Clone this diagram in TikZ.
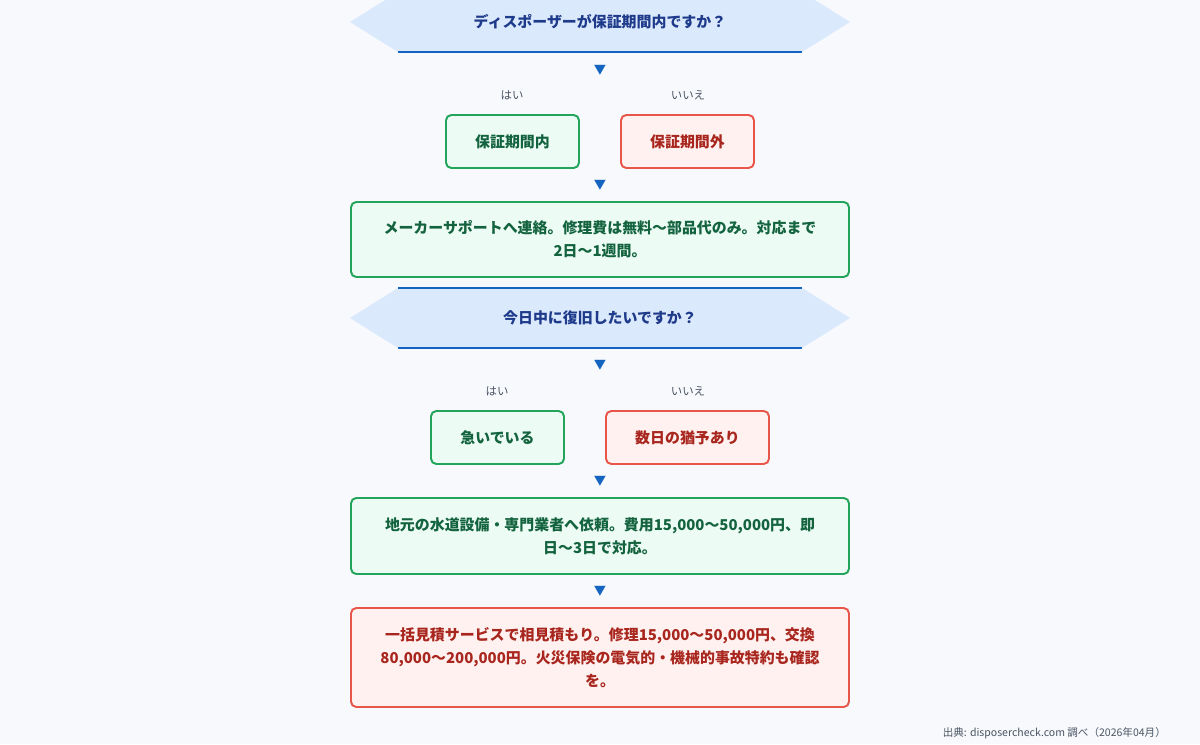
\documentclass[tikz,border=0pt]{standalone}
\usepackage{fontspec}
\setmainfont{Noto Sans CJK JP}
\usetikzlibrary{positioning}
\definecolor{bgc}{HTML}{F7F9FD}
\definecolor{qfill}{HTML}{DBE9FC}
\definecolor{qline}{HTML}{1565C0}
\definecolor{qtext}{HTML}{1E3A8A}
\definecolor{gline}{HTML}{22A55A}
\definecolor{gfill}{HTML}{ECFBF3}
\definecolor{gtext}{HTML}{14633F}
\definecolor{rline}{HTML}{E8564A}
\definecolor{rfill}{HTML}{FFF1EF}
\definecolor{rtext}{HTML}{A8261E}
\definecolor{ltext}{HTML}{4B5563}
\tikzset{
  yesbox/.style={draw=gline, fill=gfill, text=gtext, line width=1.1pt, rounded corners=3pt, font=\fontsize{8.5}{13}\selectfont\bfseries, align=center},
  nobox/.style={draw=rline, fill=rfill, text=rtext, line width=1.1pt, rounded corners=3pt, font=\fontsize{8.5}{13}\selectfont\bfseries, align=center},
  qtxt/.style={text=qtext, font=\fontsize{8.5}{10}\selectfont\bfseries},
  ans/.style={text=ltext, font=\fontsize{6.5}{8}\selectfont},
  tri/.style={text=qline, font=\fontsize{7}{8}\selectfont}
}
\newcommand{\hexq}[3]{%
  \fill [qfill] (350,#2) -- (398,#2-30) -- (802,#2-30) -- (850,#2) -- (802,#2+30) -- (398,#2+30) -- cycle;
  \draw [qline, line width=1pt] (398,#2-30) -- (802,#2-30);
  \draw [qline, line width=1pt] (398,#2+30) -- (802,#2+30);
  \node [qtxt] (#1) at (600,#2) {#3};}
\begin{document}
\begin{tikzpicture}[x=0.02cm, y=-0.02cm]
    \fill [bgc] (0,0) rectangle (1200,744);
    \useasboundingbox (0,0) rectangle (1200,744);
    % first question
    \hexq{q1}{22}{ディスポーザーが保証期間内ですか？}
    \node [tri] (t1) at (600,70) {▼};
    \node [ans] (y1) at (512,95) {はい};
    \node [ans] (n1) at (688,95) {いいえ};
    \node [yesbox, minimum width=133*0.02cm, minimum height=53*0.02cm] (in) at (512.5,141.5) {保証期間内};
    \node [nobox, minimum width=133*0.02cm, minimum height=53*0.02cm] (out) at (687.5,141.5) {保証期間外};
    \node [tri] (t2) at (600,185) {▼};
    \node [yesbox, minimum width=498*0.02cm, minimum height=75*0.02cm] (maker) at (600,239.5) {メーカーサポートへ連絡。修理費は無料〜部品代のみ。対応まで\\2日〜1週間。};
    % second question
    \hexq{q2}{318}{今日中に復旧したいですか？}
    \node [tri] (t3) at (600,365) {▼};
    \node [ans] (y2) at (497,391) {はい};
    \node [ans] (n2) at (688,391) {いいえ};
    \node [yesbox, minimum width=133*0.02cm, minimum height=53*0.02cm] (hurry) at (497.5,437.5) {急いでいる};
    \node [nobox, minimum width=163*0.02cm, minimum height=53*0.02cm] (wait) at (687.5,437.5) {数日の猶予あり};
    \node [tri] (t4) at (600,481) {▼};
    \node [yesbox, minimum width=498*0.02cm, minimum height=76*0.02cm] (local) at (600,536) {地元の水道設備・専門業者へ依頼。費用15,000〜50,000円、即\\日〜3日で対応。};
    \node [tri] (t5) at (600,591) {▼};
    \node [nobox, minimum width=498*0.02cm, minimum height=99*0.02cm] (quote) at (600,657.5) {一括見積サービスで相見積もり。修理15,000〜50,000円、交換\\80,000〜200,000円。火災保険の電気的・機械的事故特約も確認\\を。};
    \node [ans, anchor=east, font=\fontsize{6}{7}\selectfont] (src) at (1172,733) {出典: disposercheck.com 調べ（2026年04月）};
\end{tikzpicture}
\end{document}
